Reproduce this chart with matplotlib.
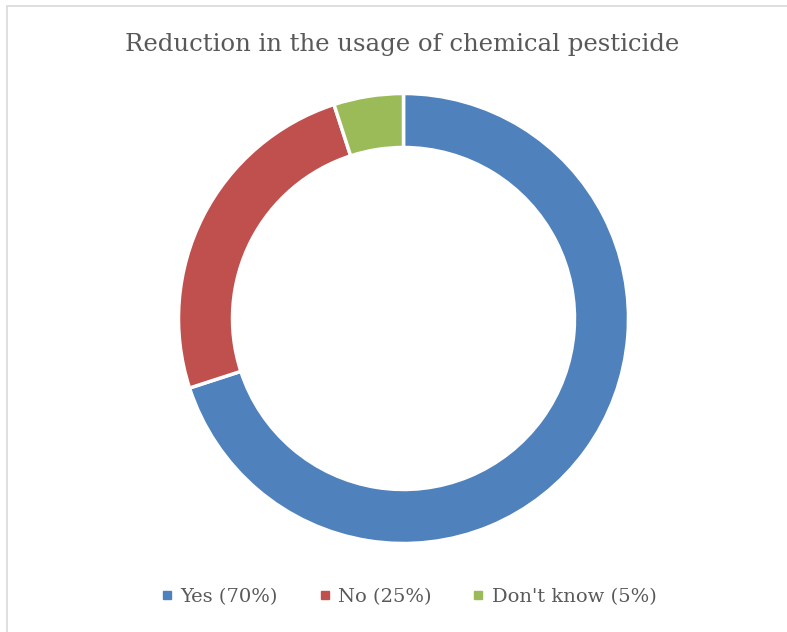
import matplotlib.pyplot as plt
from matplotlib.patches import Rectangle
from matplotlib.lines import Line2D

labels = ["Yes (70%)", "No (25%)", "Don't know (5%)"]
values = [70, 25, 5]
colors = ["#4F81BD", "#C0504D", "#9BBB59"]

W, H = 787, 632
fig = plt.figure(figsize=(W / 100, H / 100), dpi=100)

# chart-area border (only top and left edges visible in the reference)
fig.patches.append(Rectangle((6.5 / W, -0.5), 2.0, 1.5 - 5.5 / H, transform=fig.transFigure,
                             fill=False, edgecolor="#D9D9D9", linewidth=1.2))

# donut, centred around (403, 318) px, outer radius ~224 px
cx, cy, r = 403.5, 318.5, 225
ax = fig.add_axes([(cx - r) / W, 1 - (cy + r) / H, 2 * r / W, 2 * r / H])
ax.pie(values, colors=colors, startangle=90, counterclock=False, radius=1.0,
       wedgeprops=dict(width=0.24, edgecolor="white", linewidth=2.5))
ax.set_aspect("equal")
ax.set_xlim(-1, 1)
ax.set_ylim(-1, 1)
ax.axis("off")

fig.text(402 / W, 1 - 45 / H, "Reduction in the usage of chemical pesticide",
         ha="center", va="center", fontsize=17.6, family="DejaVu Serif", color="#595959")

handles = [Line2D([], [], marker="s", linestyle="", markersize=6, color=c) for c in colors]
fig.legend(handles, labels, loc="center", bbox_to_anchor=(408 / W, 1 - 597 / H), ncol=3,
           frameon=False, handletextpad=0.3, columnspacing=2.0, handlelength=0.8,
           prop=dict(family="DejaVu Serif", size=14), labelcolor="#595959")

fig.savefig("out.png", dpi=100, facecolor="white")
